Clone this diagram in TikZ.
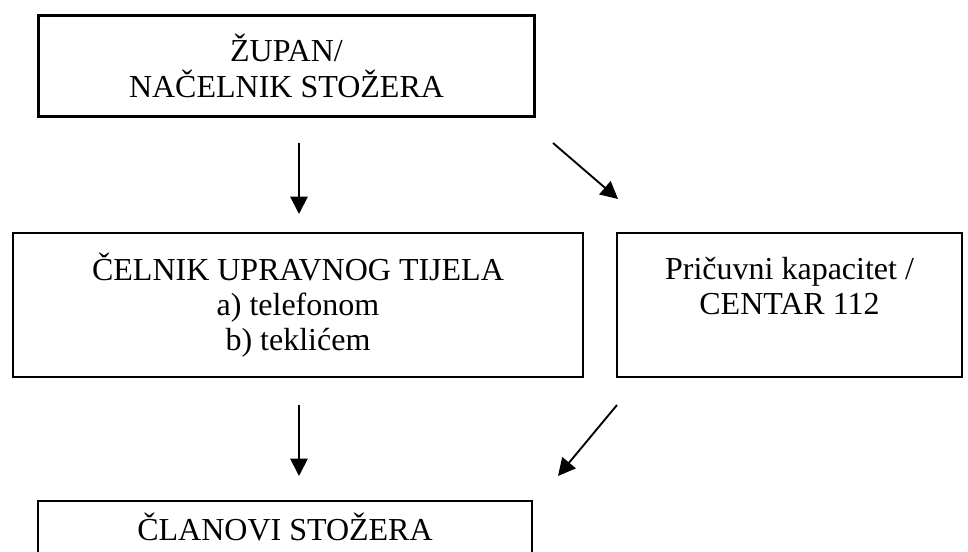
\documentclass[tikz,border=0pt]{standalone}
\usepackage{fontspec}
\setmainfont{Liberation Serif}
\usetikzlibrary{arrows.meta,positioning}

\begin{document}
\begin{tikzpicture}[x=0.75pt,y=-0.75pt,>={Triangle[length=13pt,width=13pt]},
  box/.style={draw,line width=1.9pt,rectangle,inner sep=0pt},
  txt/.style={align=center,font=\fontsize{24}{26.5}\selectfont,inner sep=0pt},
  arr/.style={->,line width=1.4pt}]
\useasboundingbox (0,0) rectangle (968,552);
\clip (0,0) rectangle (968,552);

\node[box,txt,minimum width=372pt,minimum height=75.75pt](zup) at (286.5,66){ŽUPAN/\\NAČELNIK STOŽERA};
\node[box,txt,minimum width=427.5pt,minimum height=108pt](cel) at (298,305){ČELNIK UPRAVNOG TIJELA\\a) telefonom\\b) teklićem};
\node[box,minimum width=258.75pt,minimum height=108pt](pri) at (789.5,305){};
\node[box,minimum width=370.5pt,minimum height=75pt](cla) at (285,551){};

\node[txt,anchor=north](pritxt) at ([yshift=-18.75pt]pri.north){Pričuvni kapacitet /\\CENTAR 112};
\node[txt,anchor=base](clatxt) at ([yshift=-30.75pt]cla.north){ČLANOVI STOŽERA};

\coordinate (a1s) at (299,143); \coordinate (a1e) at (299,214);
\coordinate (a2s) at (553,143); \coordinate (a2e) at (618,199);
\coordinate (a3s) at (299,405); \coordinate (a3e) at (299,476);
\coordinate (a4s) at (617,405); \coordinate (a4e) at (558,476);

\draw[arr](a1s)--(a1e); \draw[arr](a2s)--(a2e);
\draw[arr](a3s)--(a3e); \draw[arr](a4s)--(a4e);

\end{tikzpicture}
\end{document}
